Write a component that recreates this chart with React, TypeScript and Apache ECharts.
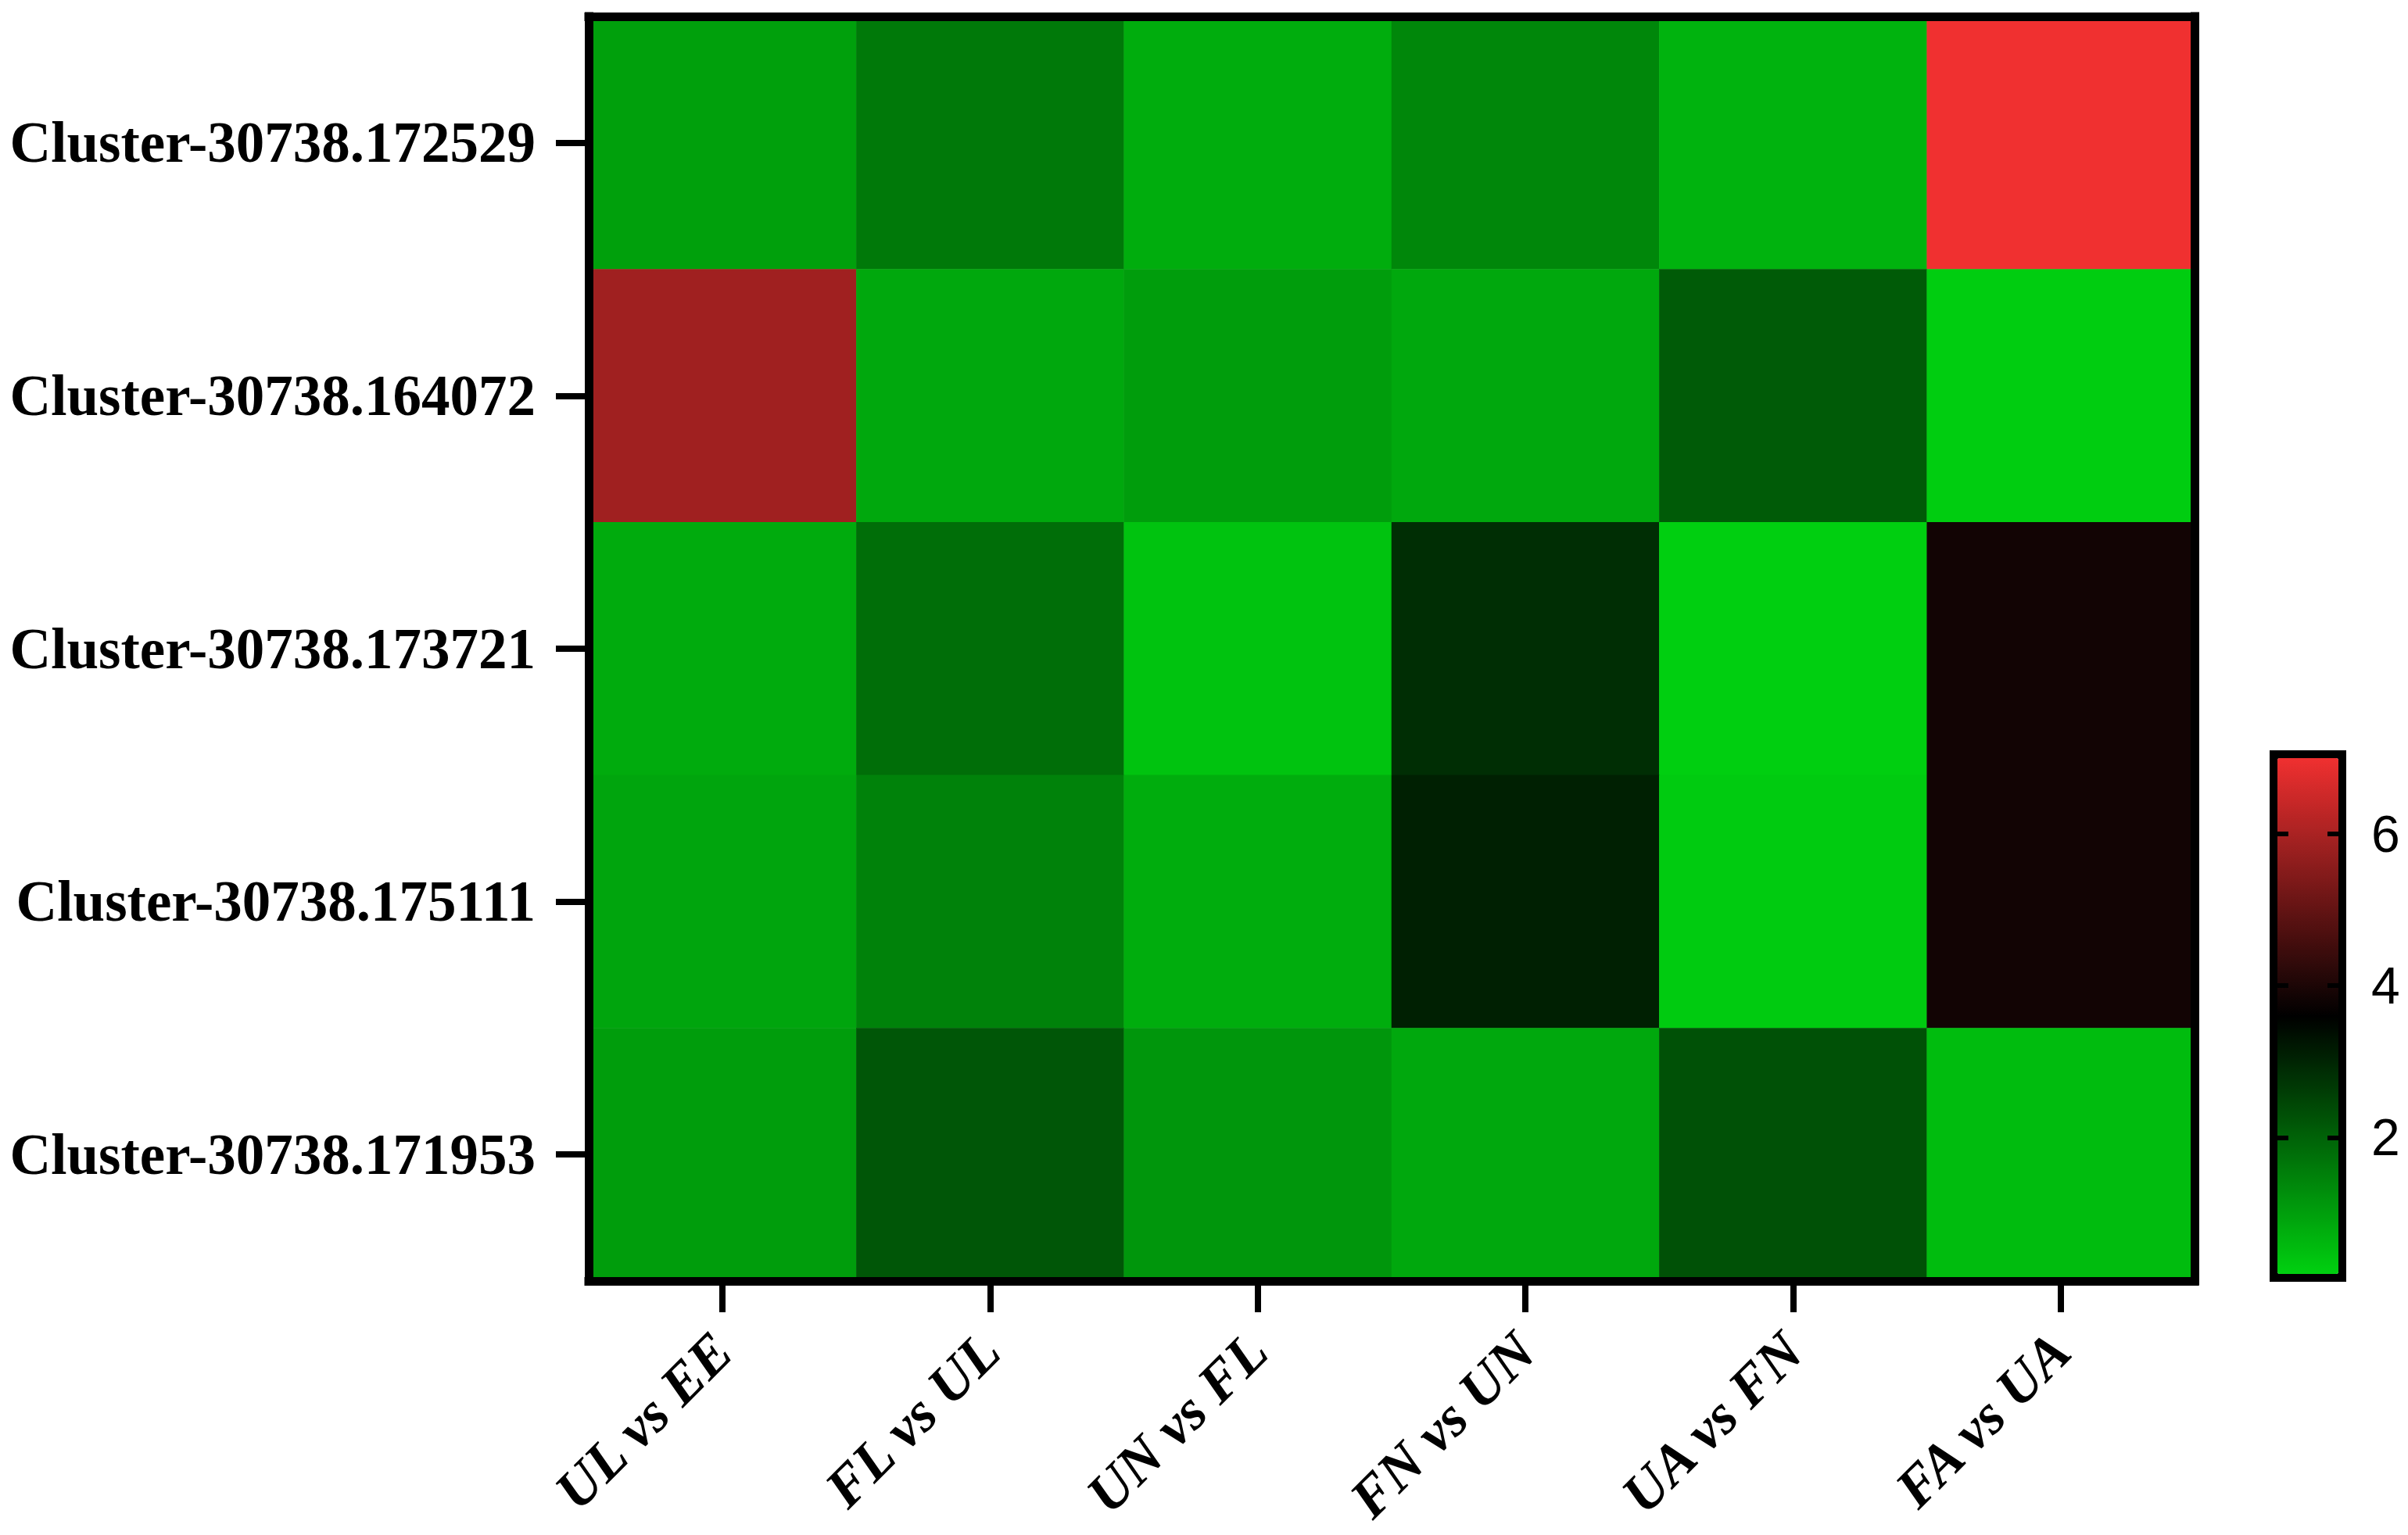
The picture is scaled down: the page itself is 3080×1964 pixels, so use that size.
import React, { useEffect, useRef } from "react";
import * as echarts from "echarts";

const xCategories = ["UL vs EE", "FL vs UL", "UN vs FL", "FN vs UN", "UA vs FN", "FA vs UA"];
const yCategories = [
  "Cluster-30738.172529",
  "Cluster-30738.164072",
  "Cluster-30738.173721",
  "Cluster-30738.175111",
  "Cluster-30738.171953",
];

const row172529 = [0.98, 1.63, 0.78, 1.39, 0.68, 7.0];
const row164072 = [5.87, 0.86, 1.03, 0.86, 2.11, 0.25];
const row173721 = [0.81, 1.81, 0.42, 2.85, 0.22, 3.86];
const row175111 = [0.91, 1.48, 0.78, 3.07, 0.28, 3.86];
const row171953 = [1.03, 2.19, 1.15, 0.86, 2.27, 0.53];

const rows = [row172529, row164072, row173721, row175111, row171953];

const scaleMin = 0.2;
const scaleMax = 7.0;
const scaleTicks = [2, 4, 6];
const scaleColors = ["#00D010", "#000000", "#F03030"];

export default function App() {
  const ref = useRef<HTMLDivElement>(null);

  useEffect(() => {
    if (!ref.current) return;
    const chart = echarts.init(ref.current, null, { renderer: "svg" });

    const data: number[][] = [];
    rows.forEach((r, yi) => r.forEach((v, xi) => data.push([xi, yi, v])));

    const serif = '"Liberation Serif", "Times New Roman", serif';
    const frameLine = { show: true, lineStyle: { color: "#000", width: 11, cap: "square" } };

    chart.setOption({
      animation: false,
      backgroundColor: "#fff",
      grid: [
        { left: 753, right: 273, top: 21, bottom: 325, show: false, containLabel: false, outerBoundsMode: "none" },
        {
          left: 2913,
          top: 970,
          width: 78,
          height: 660,
          show: true,
          borderColor: "#000",
          borderWidth: 20,
          backgroundColor: "transparent",
          containLabel: false,
          outerBoundsMode: "none",
        },
      ],
      xAxis: [
        {
          type: "category",
          gridIndex: 0,
          data: xCategories,
          position: "bottom",
          z: 10,
          axisLine: frameLine,
          axisTick: { show: true, alignWithLabel: true, length: 40, lineStyle: { width: 8, color: "#000" } },
          axisLabel: {
            rotate: 45,
            margin: 78,
            fontSize: 72,
            fontWeight: "bold",
            fontStyle: "italic",
            fontFamily: serif,
            color: "#000",
          },
          splitLine: { show: false },
        },
        {
          type: "category",
          gridIndex: 0,
          data: xCategories,
          position: "top",
          z: 10,
          axisLine: frameLine,
          axisTick: { show: false },
          axisLabel: { show: false },
        },
        { type: "value", gridIndex: 1, show: false, min: 0, max: 1 },
      ],
      yAxis: [
        {
          type: "category",
          gridIndex: 0,
          data: yCategories,
          inverse: true,
          position: "left",
          z: 10,
          axisLine: frameLine,
          axisTick: { show: true, alignWithLabel: true, length: 42, lineStyle: { width: 8, color: "#000" } },
          axisLabel: {
            margin: 68,
            fontSize: 73,
            fontWeight: "bold",
            fontFamily: serif,
            color: "#000",
          },
          splitLine: { show: false },
        },
        {
          type: "category",
          gridIndex: 0,
          data: yCategories,
          inverse: true,
          position: "right",
          z: 10,
          axisLine: frameLine,
          axisTick: { show: false },
          axisLabel: { show: false },
        },
        {
          type: "value",
          gridIndex: 1,
          min: scaleMin,
          max: scaleMax,
          position: "left",
          z: 10,
          axisLine: { show: false },
          axisTick: { show: true, inside: true, length: 14, customValues: scaleTicks, lineStyle: { width: 6, color: "#000" } },
          axisLabel: { show: false },
          splitLine: { show: false },
        },
        {
          type: "value",
          gridIndex: 1,
          min: scaleMin,
          max: scaleMax,
          position: "right",
          z: 10,
          axisLine: { show: false },
          axisTick: { show: true, inside: true, length: 14, customValues: scaleTicks, lineStyle: { width: 6, color: "#000" } },
          axisLabel: {
            show: true,
            customValues: scaleTicks,
            margin: 42,
            fontSize: 66,
            fontFamily: '"Liberation Sans", Arial, sans-serif',
            color: "#000",
          },
          splitLine: { show: false },
        },
      ],
      visualMap: {
        type: "continuous",
        min: scaleMin,
        max: scaleMax,
        seriesIndex: 0,
        calculable: false,
        hoverLink: false,
        orient: "vertical",
        left: 2913,
        top: 970,
        itemWidth: 78,
        itemHeight: 660,
        padding: 0,
        inRange: { color: scaleColors },
      },
      series: [
        {
          type: "heatmap",
          xAxisIndex: 0,
          yAxisIndex: 0,
          data,
          itemStyle: { borderWidth: 0 },
          emphasis: { disabled: true },
        },
      ],
    });

    return () => chart.dispose();
  }, []);

  return (
    <div
      ref={ref}
      style={{ position: "fixed", left: 0, top: 0, width: 3080, height: 1964, background: "#fff" }}
    />
  );
}
